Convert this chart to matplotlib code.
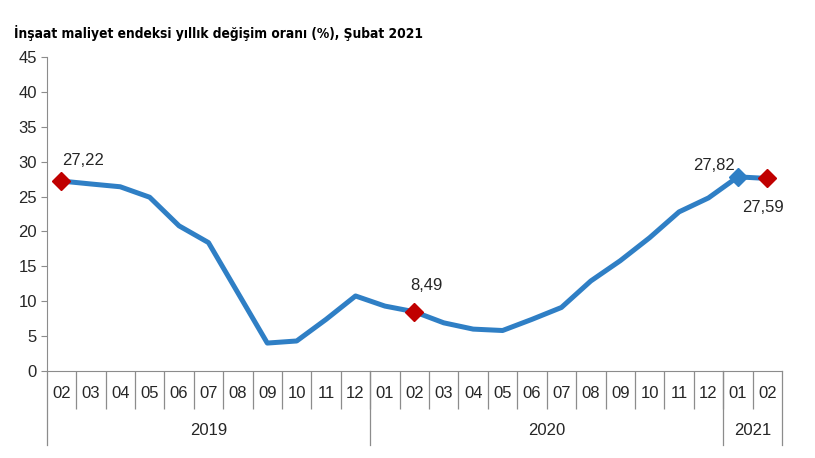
import matplotlib
matplotlib.use('Agg')
import matplotlib.pyplot as plt
from matplotlib import font_manager
from matplotlib.transforms import blended_transform_factory

plt.rcParams['font.family'] = ['Liberation Sans', 'DejaVu Sans']

months = ['02', '03', '04', '05', '06', '07', '08', '09', '10', '11', '12',
          '01', '02', '03', '04', '05', '06', '07', '08', '09', '10', '11', '12',
          '01', '02']
years = ['2019', '2020', '2021']
year_counts = [11, 12, 2]
values = [27.22, 26.8, 26.4, 24.9, 20.8, 18.4, 11.2, 4.0, 4.3, 7.4, 10.75,
          9.3, 8.49, 6.9, 6.0, 5.8, 7.4, 9.1, 12.9, 15.8, 19.1, 22.8, 24.8,
          27.82, 27.59]
red_points = [0, 12, 24]
blue_points = [23]
labels = {0: '27,22', 12: '8,49', 23: '27,82', 24: '27,59'}

line_blue = '#2F7FC5'
red = '#C00000'
grey = '#8C8C8C'
txt = '#262626'

# a narrow face looks closer to the original title, if one is installed
narrow = [f for f in font_manager.fontManager.ttflist
          if f.stretch in ('condensed', 'semi-condensed') and f.weight in ('bold', 700)]
if narrow:
    title_kw = dict(family=[narrow[0].name, 'DejaVu Sans'], fontstretch=narrow[0].stretch,
                    fontsize=9.9)
else:
    title_kw = dict(fontsize=10.3)

fig = plt.figure(figsize=(8.15, 4.58), dpi=100)
ax = fig.add_axes([0.0573, 0.19, 0.9022, 0.6856])

x = list(range(len(values)))
ax.plot(x, values, color=line_blue, lw=3.6, solid_joinstyle='round', zorder=2)
ax.plot([x[i] for i in red_points], [values[i] for i in red_points], 'D',
        color=red, ms=9, zorder=3)
ax.plot([x[i] for i in blue_points], [values[i] for i in blue_points], 'D',
        color=line_blue, ms=9, zorder=3)

offsets = {0: (0.75, 3.0), 12: (0.4, 3.7), 23: (-0.8, 1.6), 24: (-0.15, -4.2)}
for i, s in labels.items():
    dx, dy = offsets[i]
    ax.text(x[i] + dx, values[i] + dy, s, ha='center', va='center',
            fontsize=12, color=txt)

ax.set_xlim(-0.5, len(values) - 0.5)
ax.set_ylim(0, 45)
ax.set_yticks(range(0, 46, 5))
ax.tick_params(axis='y', direction='out', length=4, color=grey,
               labelsize=12, labelcolor=txt, pad=3)

ax.set_xticks(x)
ax.set_xticklabels(months)
ax.tick_params(axis='x', which='major', length=0, labelsize=12,
               labelcolor=txt, pad=11)
ax.set_xticks([i + 0.5 for i in range(len(values) - 1)], minor=True)
ax.tick_params(axis='x', which='minor', direction='out', length=27,
               color=grey, width=0.9)

for s in ['top', 'right']:
    ax.spines[s].set_visible(False)
ax.spines['left'].set_color(grey)
ax.spines['bottom'].set_color(grey)

trans = blended_transform_factory(ax.transData, ax.transAxes)
start = -0.5
for yr, n in zip(years, year_counts):
    ax.plot([start, start], [0, -0.236], color=grey, lw=0.9,
            transform=trans, clip_on=False)
    ax.text(start + n / 2, -0.19, yr, transform=trans, ha='center',
            va='center', fontsize=12, color=txt)
    start += n
ax.plot([start, start], [0, -0.236], color=grey, lw=0.9,
        transform=trans, clip_on=False)

fig.text(0.017, 0.928, 'İnşaat maliyet endeksi yıllık değişim oranı (%), Şubat 2021',
         fontweight='bold', color='black', ha='left', va='center', **title_kw)

fig.savefig('out.png', dpi=100)
